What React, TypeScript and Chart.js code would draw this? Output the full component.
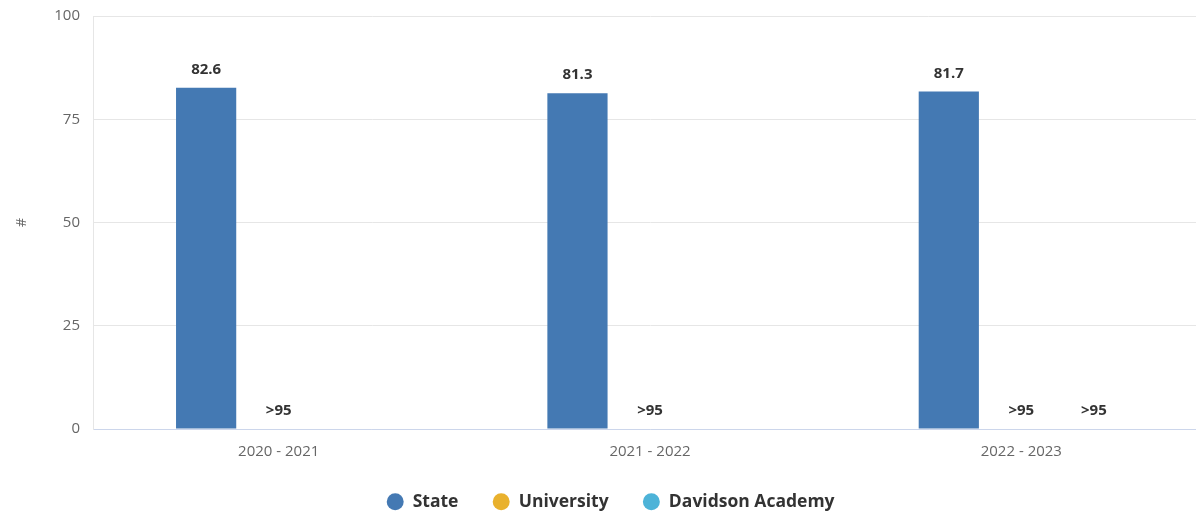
import React, { useEffect, useRef } from "react";
import { Chart, registerables } from "chart.js";

Chart.register(...registerables);

const categories = ["2020 - 2021", "2021 - 2022", "2022 - 2023"];
const seriesNames = ["State", "University", "Davidson Academy"];
const stateValues: (number | null)[] = [82.6, 81.3, 81.7];
const universityValues: (number | null)[] = [0, 0, 0];
const davidsonValues: (number | null)[] = [null, null, 0];
const stateLabels = ["82.6", "81.3", "81.7"];
const universityLabels = [">95", ">95", ">95"];
const davidsonLabels = ["", "", ">95"];
const yTicks = [0, 25, 50, 75, 100];
const colors = ["#4479b3", "#e9b12d", "#4db3d8"];

const FONT = "'Open Sans', 'DejaVu Sans', sans-serif";

const labelPlugin = {
  id: "barLabels",
  afterLayout(chart: any) {
    if (chart.legend) {
      chart.legend.left += 7;
      chart.legend.right += 7;
    }
  },
  afterDatasetsDraw(chart: any) {
    const ctx = chart.ctx;
    ctx.save();
    ctx.font = `bold 15px ${FONT}`;
    ctx.fillStyle = "#333333";
    ctx.textAlign = "center";
    ctx.textBaseline = "alphabetic";
    chart.data.datasets.forEach((ds: any, i: number) => {
      const meta = chart.getDatasetMeta(i);
      meta.data.forEach((el: any, j: number) => {
        const lbl = ds.valueLabels[j];
        if (!lbl || ds.data[j] === null) return;
        ctx.fillText(lbl, el.x, el.y - 14);
      });
    });
    ctx.restore();
  },
};

export default function App() {
  const ref = useRef<HTMLCanvasElement | null>(null);
  useEffect(() => {
    document.body.style.margin = "0";
    const chart = new Chart(ref.current!, {
      type: "bar",
      data: {
        labels: categories,
        datasets: [
          { label: seriesNames[0], data: stateValues, valueLabels: stateLabels, backgroundColor: colors[0] } as any,
          { label: seriesNames[1], data: universityValues, valueLabels: universityLabels, backgroundColor: colors[1] } as any,
          { label: seriesNames[2], data: davidsonValues, valueLabels: davidsonLabels, backgroundColor: colors[2] } as any,
        ],
      },
      options: {
        animation: false,
        responsive: true,
        maintainAspectRatio: false,
        datasets: { bar: { categoryPercentage: 0.586, barPercentage: 0.83 } },
        layout: { padding: { top: 16, right: 0, left: 0, bottom: 0 } },
        plugins: {
          tooltip: { enabled: false },
          legend: {
            position: "bottom",
            maxHeight: 55,
            labels: {
              usePointStyle: true,
              pointStyle: "circle",
              boxWidth: 18,
              boxHeight: 12,
              padding: 34,
              color: "#333333",
              font: { family: FONT, size: 17.5, weight: "bold" },
            },
          },
        },
        scales: {
          x: {
            grid: { display: false, drawTicks: false },
            border: { color: "#ccd6eb" },
            ticks: { color: "#666666", font: { family: FONT, size: 15 }, padding: 14 },
            afterFit: (s: any) => { s.height = 30; },
          },
          y: {
            min: 0,
            max: 100,
            afterBuildTicks: (s: any) => { s.ticks = yTicks.map((v) => ({ value: v })); },
            grid: { color: "#e6e6e6", drawTicks: false },
            border: { color: "#e6e6e6" },
            ticks: { color: "#666666", font: { family: FONT, size: 15 }, padding: 13 },
            title: { display: true, text: "#", color: "#666666", font: { family: FONT, size: 14 }, padding: { top: 14, bottom: 0 } },
            afterFit: (s: any) => { s.width = 93; s.paddingTop = 0; s.paddingBottom = 0; },
          },
        },
      } as any,
      plugins: [labelPlugin],
    });
    return () => chart.destroy();
  }, []);
  return (
    <div style={{ width: 1196, height: 514, overflow: "hidden" }}>
      <div style={{ width: 1207, height: 514, position: "relative" }}>
        <canvas ref={ref} />
      </div>
    </div>
  );
}
